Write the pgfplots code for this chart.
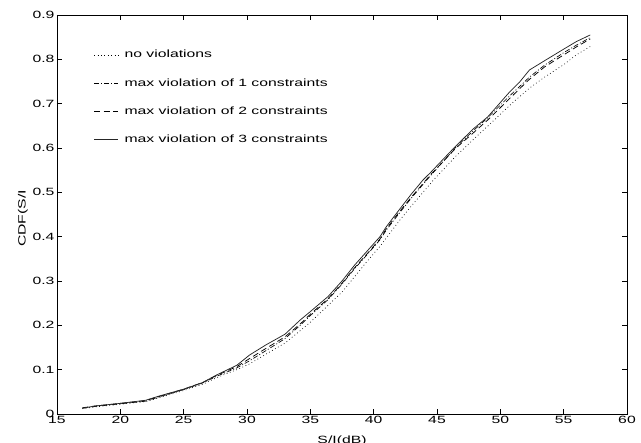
\documentclass[border=0pt]{standalone}
\usepackage{fontspec}
\setmainfont{Liberation Sans}[FakeStretch=1.5]
\usepackage{pgfplots}
\pgfplotsset{compat=1.18}

% four CDF curves
\pgfplotstableread{
x y
17 0.013
18 0.018
20 0.024
22 0.031
23 0.040
25 0.056
26.5 0.071
27.6 0.088
29.2 0.110
30.2 0.133
31.5 0.156
33 0.180
34.2 0.212
35 0.231
36.4 0.265
37.5 0.300
38.5 0.336
39.5 0.368
40.5 0.400
41 0.4225
42 0.460
43 0.497
43.9 0.528
44.5 0.545
45.5 0.575
46.5 0.605
47.9 0.644
49 0.670
50.75 0.727
51.5 0.748
52.3 0.776
53.5 0.797
55 0.823
56 0.840
57.1 0.855
}\threecons

\pgfplotstableread{
x y
17 0.014
18 0.018
20 0.024
22 0.030
23 0.039
25 0.056
26.5 0.071
27.6 0.087
29.2 0.107
30.2 0.125
31.5 0.148
33 0.174
34.2 0.203
35 0.225
36.4 0.260
37.5 0.295
38.5 0.330
39.5 0.362
40.5 0.395
41 0.418
42 0.455
43 0.490
43.9 0.520
44.5 0.540
45.5 0.570
46.5 0.600
47.9 0.635
49 0.663
50.75 0.712
51.5 0.733
52.3 0.755
53.5 0.783
55 0.810
56 0.828
57.1 0.846
}\twocons

\pgfplotstableread{
x y
17 0.013
18 0.017
20 0.023
22 0.029
23 0.038
25 0.055
26.5 0.070
27.6 0.085
29.2 0.104
30.2 0.120
31.5 0.143
33 0.170
34.2 0.200
35 0.222
36.4 0.258
37.5 0.293
38.5 0.328
39.5 0.360
40.5 0.393
41 0.415
42 0.452
43 0.488
43.9 0.518
44.5 0.538
45.5 0.570
46.5 0.602
47.9 0.640
49 0.668
50.75 0.718
51.5 0.738
52.3 0.760
53.5 0.787
55 0.815
56 0.832
57.1 0.849
}\onecons

\pgfplotstableread{
x y
17 0.012
18 0.016
20 0.022
22 0.028
23 0.036
25 0.053
26.5 0.067
27.6 0.082
29.2 0.100
30.2 0.113
31.5 0.135
33 0.160
34.2 0.188
35 0.207
36.4 0.245
37.5 0.275
38.5 0.310
39.5 0.345
40.5 0.378
42 0.435
43 0.470
44.7 0.527
46.5 0.582
47.9 0.620
49.7 0.668
51 0.703
52.3 0.735
53.5 0.760
55 0.788
56 0.810
57.1 0.829
}\nocons

\begin{document}
\begin{tikzpicture}
\begin{axis}[
    scale only axis,
    width=570pt,
    height=399pt,
    xmin=15, xmax=60,
    ymin=0, ymax=0.9,
    xtick={15,20,...,60},
    ytick={0,0.1,...,0.9},
    yticklabel style={/pgf/number format/fixed, xshift=1pt},
    /pgf/number format/assume math mode=true,
    tick align=inside,
    major tick length=5pt,
    tick style={black, line width=0.5pt},
    axis line style={line width=0.7pt},
    ticklabel style={font=\fontsize{10.5}{12}\selectfont},
    xticklabel style={yshift=1pt},
    xlabel={S/I(dB)},
    ylabel={CDF(S/I},
    label style={font=\fontsize{10.5}{12}\selectfont},
    xlabel style={yshift=-5pt},
    ylabel style={yshift=-2pt, xshift=-4pt},
    legend style={draw=none, fill=none, at={(0.059,0.922)}, anchor=north west,
        font=\fontsize{10.5}{12}\selectfont, row sep=15pt, column sep=4pt},
    legend cell align=left,
    legend image code/.code={\draw[#1] (0pt,0pt) -- (24pt,0pt);},
]
\addplot[black, line width=0.65pt, dash pattern=on 0.8pt off 2.6pt] table {\nocons};
\addplot[black, line width=0.65pt, dash pattern=on 5pt off 2pt on 1pt off 2pt] table {\onecons};
\addplot[black, line width=0.75pt, dash pattern=on 6pt off 3.5pt] table {\twocons};
\addplot[black!85, line width=0.75pt] table {\threecons};
\legend{no violations, max violation of 1 constraints, max violation of 2 constraints, max violation of 3 constraints}
\end{axis}
\pgfresetboundingbox
\path[use as bounding box] ([xshift=-57pt,yshift=-29pt]current axis.south west)
    rectangle ([xshift=14pt,yshift=15pt]current axis.north east);
\end{tikzpicture}
\end{document}
